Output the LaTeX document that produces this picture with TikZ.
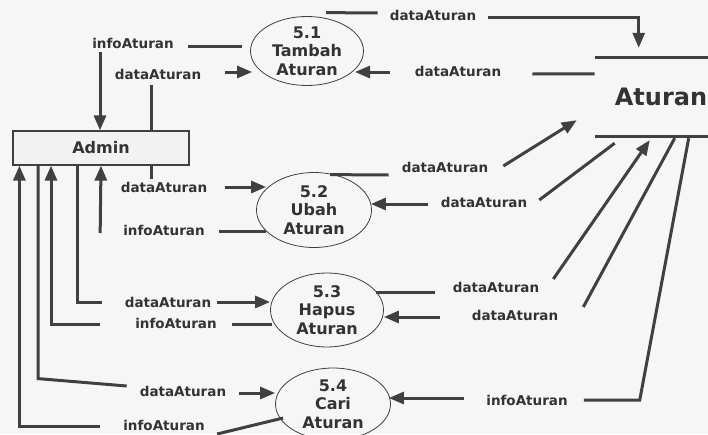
\documentclass[tikz,border=0pt]{standalone}
\usepackage{fontspec}
\setmainfont{DejaVu Sans}
\usetikzlibrary{arrows.meta,calc,shapes.geometric}
\definecolor{lineGray}{HTML}{404040}
\definecolor{textGray}{HTML}{333333}
\definecolor{bgGray}{HTML}{F6F6F6}
\begin{document}
\begin{tikzpicture}
[x=1pt,y=-1pt,
proc/.style={ellipse,draw=lineGray,line width=0.8pt,align=center,inner sep=-3pt,
             font=\bfseries\fontsize{16}{18.5}\selectfont,text=textGray},
flow/.style={draw=lineGray,line width=3pt},
arr/.style={-{Triangle[length=15pt,width=12pt]}}
]
\tikzset{lbl/.style={font=\bfseries\fontsize{13.5}{15}\selectfont,text=textGray,inner sep=0pt}}
%\tikzset{lbl/.style={font=\bfseries\small,inner sep=1pt}}
\useasboundingbox (0,0) rectangle (708,434);
\fill[bgGray] (0,0) rectangle (708,434);

% entity, store and processes
\node[draw=lineGray,line width=1.2pt,fill=black!5,minimum width=176,minimum height=34,
      font=\bfseries\fontsize{16}{18}\selectfont,text=textGray] (admin) at (101,148) {Admin};
\node[minimum width=93,minimum height=79,inner sep=0pt,
      font=\bfseries\fontsize{24}{28}\selectfont,text=textGray] (store) at (661,97) {Aturan};
\draw[flow] ($(store.north east)+(-113,0)$) -- (store.north east);
\draw[flow] ($(store.south east)+(-113,0)$) -- (store.south east);
\node[proc,minimum width=113,minimum height=69] (p1) at (307,51) {5.1\\Tambah\\Aturan};
\node[proc,minimum width=115,minimum height=75] (p2) at (314,210) {5.2\\Ubah\\Aturan};
\node[proc,minimum width=113,minimum height=74] (p3) at (327,310) {5.3\\Hapus\\Aturan};
\node[proc,minimum width=115,minimum height=72] (p4) at (333,404) {5.4\\Cari\\Aturan};

% flow labels
\node[lbl] (l1) at (433,15) {dataAturan};
\node[lbl] (l2) at (458,71) {dataAturan};
\node[lbl] (l3) at (133,43) {infoAturan};
\node[lbl] (l4) at (158,74) {dataAturan};
\node[lbl] (l5) at (164,187) {dataAturan};
\node[lbl] (l6) at (164,230) {infoAturan};
\node[lbl] (l7) at (168,302) {dataAturan};
\node[lbl] (l8) at (176,323) {infoAturan};
\node[lbl] (l9) at (183,391) {dataAturan};
\node[lbl] (l10) at (164,425) {infoAturan};
\node[lbl] (l11) at (445,167) {dataAturan};
\node[lbl] (l12) at (484,202) {dataAturan};
\node[lbl] (l13) at (496,287) {dataAturan};
\node[lbl] (l14) at (515,315) {dataAturan};
\node[lbl] (l15) at (527,400) {infoAturan};

% 5.1
\draw[flow] ($(p1.north)+(19,-3.5)$) -- ($(l1.west)+(-12,-2)$);
\draw[flow,arr] ($(l1.east)+(12,2)$) -| ($(store.north east)+(-69,-9.5)$);
\draw[flow] ($(store.north east)+(-113,16.5)$) -- ($(l2.east)+(31,3)$);
\draw[flow,arr] ($(l2.west)+(-25,1)$) -- ($(p1.center)+(48,21)$);
\draw[flow] ($(p1.west)+(-8,-5)$) -- ($(l3.east)+(14,3)$);
\draw[flow,arr] ($(l3.south)+(-33,4)$) -- ($(admin.north)+(-1,0)$);
\draw[flow] ($(admin.north)+(50,0)$) -- ($(l4.south)+(-7,6)$);
\draw[flow,arr] ($(l4.east)+(24,-2)$) -- ($(p1.west)+(2,21)$);

% 5.2
\draw[flow] ($(admin.south)+(50,0)$) -- ($(l5.north)+(-13,-3)$);
\draw[flow,arr] ($(l5.east)+(18,0)$) -- ($(p2.west)+(10,-23)$);
\draw[flow] ($(p2.west)+(10,21)$) -- ($(l6.east)+(14,1)$);
\draw[flow,arr] ($(l6.west)+(-23,3)$) -- (admin.south);
\draw[flow] ($(p2.north)+(16,2.5)$) -- ($(l11.west)+(-13,8)$);
\draw[flow,arr] ($(l11.east)+(15,-1)$) -- ($(store.south east)+(-131,-16.5)$);
\draw[flow] ($(store.south east)+(-93,6.5)$) -- ($(l12.east)+(12,-2)$);
\draw[flow,arr] ($(l12.west)+(-13,2)$) -- ($(p2.east)+(-1,-6)$);

% 5.3
\draw[flow] ($(admin.south)+(-24,0)$) |- ($(l7.west)+(-23,0)$);
\draw[flow,arr] ($(l7.east)+(6,0)$) -- ($(p3.west)+(0,-8)$);
\draw[flow] ($(p3.west)+(2,14)$) -- ($(l8.east)+(15,1)$);
\draw[flow,arr] ($(l8.west)+(-35,1)$) -| ($(admin.south)+(-50,0)$);
\draw[flow] ($(p3.east)+(-8,-18)$) -- ($(l13.west)+(-18,5)$);
\draw[flow,arr] ($(l13.east)+(14,-8)$) -- ($(store.south east)+(-58,3.5)$);
\draw[flow] ($(store.south east)+(-33,1.5)$) -- ($(l14.east)+(25,-8)$);
\draw[flow,arr] ($(l14.west)+(-32,2)$) -- ($(p3.east)+(0,7)$);

% 5.4
\draw[flow] ($(admin.south)+(-63,0)$) -- ++(0,213) -- ($(l9.west)+(-13,-5)$);
\draw[flow,arr] ($(l9.east)+(13,2)$) -- ($(p4.west)+(0,-11)$);
\draw[flow] ($(p4.west)+(8,14)$) -- ++(-66,16);
\draw[flow,arr] ($(l10.west)+(-23,1)$) -| ($(admin.south west)+(7,0)$);
\draw[flow] ($(store.south east)+(-19,1.5)$) -- ++(-49,262) -- ($(l15.east)+(16,0)$);
\draw[flow,arr] ($(l15.west)+(-22,-2)$) -- ($(p4.east)+(-2,-6)$);
\end{tikzpicture}
\end{document}
